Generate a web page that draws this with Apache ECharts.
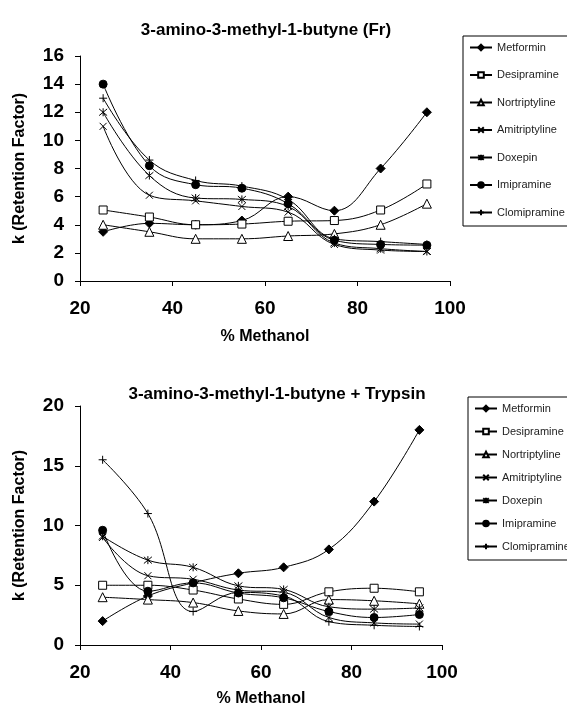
<!DOCTYPE html>
<html>
<head>
<meta charset="utf-8">
<script src="https://cdn.jsdelivr.net/npm/echarts@6/dist/echarts.min.js"></script>
<style>
html,body{margin:0;padding:0;background:#fff;}
#c{width:567px;height:712px;}
</style>
</head>
<body>
<div id="c"></div>
<script>
var methanol = [25, 35, 45, 55, 65, 75, 85, 95];
var drugNames = ['Metformin', 'Desipramine', 'Nortriptyline', 'Amitriptyline', 'Doxepin', 'Imipramine', 'Clomipramine'];

// Top chart: 3-amino-3-methyl-1-butyne (Fr)
var metforminFr     = [3.5, 4.1, 4.0, 4.3, 6.0, 5.0, 8.0, 12.0];
var desipramineFr   = [5.05, 4.55, 4.0, 4.05, 4.25, 4.3, 5.05, 6.9];
var nortriptylineFr = [4.0, 3.5, 3.0, 3.0, 3.2, 3.35, 4.0, 5.5];
var amitriptylineFr = [11.0, 6.1, 5.7, 5.3, 4.9, 2.6, 2.2, 2.1];
var doxepinFr       = [12.0, 7.5, 5.9, 5.8, 5.3, 2.7, 2.3, 2.1];
var imipramineFr    = [14.0, 8.2, 6.85, 6.6, 5.5, 2.9, 2.6, 2.55];
var clomipramineFr  = [13.0, 8.6, 7.15, 6.75, 5.8, 3.0, 2.8, 2.6];

// Bottom chart: 3-amino-3-methyl-1-butyne + Trypsin
var metforminTr     = [2.0, 4.1, 5.2, 6.0, 6.5, 8.0, 12.0, 18.0];
var desipramineTr   = [5.0, 5.0, 4.6, 3.85, 3.4, 4.45, 4.75, 4.45];
var nortriptylineTr = [4.0, 3.8, 3.55, 2.85, 2.6, 3.8, 3.7, 3.45];
var amitriptylineTr = [9.0, 5.8, 5.5, 4.6, 4.4, 2.3, 1.85, 1.75];
var doxepinTr       = [9.1, 7.1, 6.5, 4.95, 4.65, 3.2, 3.0, 3.1];
var imipramineTr    = [9.6, 4.5, 5.2, 4.35, 3.95, 2.8, 2.3, 2.55];
var clomipramineTr  = [15.5, 11.0, 2.8, 4.4, 4.1, 1.95, 1.65, 1.55];

var topSets = [metforminFr, desipramineFr, nortriptylineFr, amitriptylineFr, doxepinFr, imipramineFr, clomipramineFr];
var botSets = [metforminTr, desipramineTr, nortriptylineTr, amitriptylineTr, doxepinTr, imipramineTr, clomipramineTr];

var styles = [
  {symbol: 'diamond', size: 9, fill: '#000'},
  {symbol: 'rect', size: 8, fill: '#fff'},
  {symbol: 'triangle', size: 9, fill: '#fff'},
  {symbol: 'path://M0,0L10,10M10,0L0,10', size: 7, fill: '#000'},
  {symbol: 'path://M0,0L10,10M10,0L0,10M5,-1L5,11', size: 8, fill: '#000'},
  {symbol: 'circle', size: 8, fill: '#000'},
  {symbol: 'path://M5,0L5,10M0,5L10,5', size: 8, fill: '#000'}
];

function pairs(ys) { return methanol.map(function (x, i) { return [x, ys[i]]; }); }

var series = [];
[topSets, botSets].forEach(function (sets, gi) {
  sets.forEach(function (ys, i) {
    var st = styles[i];
    series.push({
      name: drugNames[i], type: 'line', xAxisIndex: gi, yAxisIndex: gi,
      data: pairs(ys), smooth: 0.4,
      symbol: st.symbol, symbolSize: st.size, showAllSymbol: true,
      lineStyle: {color: '#000', width: 1},
      itemStyle: {color: st.fill, borderColor: '#000', borderWidth: 1},
      emphasis: {disabled: true}, animation: false
    });
  });
});

var axisFont = {fontFamily: 'Arial, "Liberation Sans", sans-serif', fontWeight: 'bold', color: '#000'};

function xAx(gi) {
  return {
    type: 'value', gridIndex: gi, min: 20, max: 100, interval: 20,
    name: '% Methanol', nameLocation: 'middle', nameGap: gi === 0 ? 48 : 46,
    nameTextStyle: Object.assign({fontSize: 16}, axisFont),
    axisLine: {lineStyle: {color: '#000', width: 1}},
    axisTick: {show: true, length: 5, lineStyle: {color: '#000'}},
    axisLabel: Object.assign({fontSize: 19, margin: 18}, axisFont),
    splitLine: {show: false}
  };
}
function yAx(gi, max, interval) {
  return {
    type: 'value', gridIndex: gi, min: 0, max: max, interval: interval,
    name: 'k (Retention Factor)', nameLocation: 'middle', nameGap: 52, nameRotate: 90,
    nameTextStyle: Object.assign({fontSize: 16}, axisFont),
    axisLine: {show: true, lineStyle: {color: '#000', width: 1}},
    axisTick: {show: true, length: 5, lineStyle: {color: '#000'}},
    axisLabel: Object.assign({fontSize: 19, margin: 16}, axisFont),
    splitLine: {show: false}
  };
}

function legend(top, left, gap) {
  return {
    orient: 'vertical', left: left, top: top, data: drugNames,
    itemWidth: 22, itemHeight: 7, itemGap: gap,
    padding: [6, 30, 8, 6],
    borderColor: '#000', borderWidth: 1, backgroundColor: '#fff',
    textStyle: {fontFamily: 'Arial, "Liberation Sans", sans-serif', fontSize: 11, color: '#222'},
    selectedMode: false
  };
}

var chart = echarts.init(document.getElementById('c'), null, {renderer: 'canvas'});
chart.setOption({
  animation: false,
  backgroundColor: '#fff',
  title: [
    {text: '3-amino-3-methyl-1-butyne (Fr)', left: 261, top: 17, textAlign: 'center',
     textStyle: {fontFamily: 'Arial, "Liberation Sans", sans-serif', fontSize: 17, fontWeight: 'bold', color: '#000'}},
    {text: '3-amino-3-methyl-1-butyne + Trypsin', left: 272, top: 381, textAlign: 'center',
     textStyle: {fontFamily: 'Arial, "Liberation Sans", sans-serif', fontSize: 17, fontWeight: 'bold', color: '#000'}}
  ],
  grid: [
    {left: 80, top: 56, width: 370, height: 225},
    {left: 80, top: 406, width: 362, height: 239}
  ],
  xAxis: [xAx(0), xAx(1)],
  yAxis: [yAx(0, 16, 2), yAx(1, 20, 5)],
  legend: [legend(36, 463, 16.5), legend(397, 468, 12)],
  series: series
});
</script>
</body>
</html>
